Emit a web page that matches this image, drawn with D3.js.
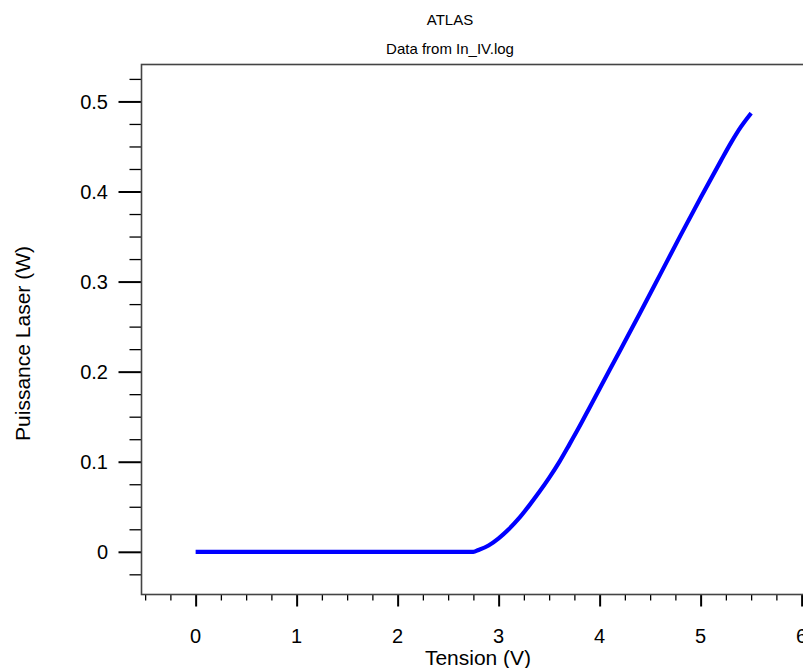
<!DOCTYPE html>
<html>
<head>
<meta charset="utf-8">
<script src="https://cdn.jsdelivr.net/npm/d3@7"></script>
<style>
html,body{margin:0;padding:0;background:#fff;overflow:hidden;}
text{font-family:"Liberation Sans",Arial,sans-serif;fill:#000;}
</style>
</head>
<body>
<svg id="chart" width="803" height="668"></svg>
<script>
const title = "ATLAS";
const subtitle = "Data from In_IV.log";
const xLabel = "Tension (V)";
const yLabel = "Puissance Laser (W)";

const voltage = [0, 0.5, 1, 1.5, 2, 2.5, 2.75, 2.8, 2.9, 3.0, 3.1, 3.2, 3.3, 3.4, 3.5, 3.6, 3.7, 3.8, 3.9, 4.0, 4.2, 4.4, 4.6, 4.8, 5.0, 5.2, 5.3, 5.4, 5.5];
const power   = [0, 0, 0, 0, 0, 0, 0, 0.002, 0.007, 0.015, 0.025, 0.037, 0.051, 0.066, 0.082, 0.0995, 0.119, 0.139, 0.160, 0.181, 0.223, 0.265, 0.308, 0.351, 0.393, 0.434, 0.454, 0.472, 0.487];

const xMajorTicks = [0, 1, 2, 3, 4, 5, 6];
const yMajorTicks = [0, 0.1, 0.2, 0.3, 0.4, 0.5];
const xTickLabels = ["0", "1", "2", "3", "4", "5", "6"];
const yTickLabels = ["0", "0.1", "0.2", "0.3", "0.4", "0.5"];

const svg = d3.select("#chart");
const mLeft = 141.5, mTop = 64.5, mBottom = 594.5, mRight = 870;

const x = d3.scaleLinear().domain([-0.536, 6.677]).range([mLeft, mRight]);
const y = d3.scaleLinear().domain([-0.0474, 0.541]).range([mBottom, mTop]);

// titles
svg.append("text").attr("x", 450).attr("y", 25).attr("text-anchor", "middle")
  .style("font-size", "15px").text(title);
svg.append("text").attr("x", 450).attr("y", 54).attr("text-anchor", "middle")
  .style("font-size", "15px").text(subtitle);

// minor ticks
const xMinor = d3.range(-0.5, 6.51, 0.25).filter(v => Math.abs(v - Math.round(v)) > 1e-6);
const yMinor = d3.range(-0.025, 0.5251, 0.025).filter(v => Math.abs(v * 10 - Math.round(v * 10)) > 1e-6);

const xAxisMajor = d3.axisBottom(x).tickValues(xMajorTicks).tickSize(12).tickFormat("");
const xAxisMinor = d3.axisBottom(x).tickValues(xMinor).tickSize(6).tickFormat("");
const yAxisMajor = d3.axisLeft(y).tickValues(yMajorTicks).tickSize(23).tickFormat("");
const yAxisMinor = d3.axisLeft(y).tickValues(yMinor).tickSize(12).tickFormat("");

function styleAxis(g, w) {
  g.select(".domain").remove();
  g.selectAll(".tick line").attr("stroke", "#000").attr("stroke-width", w);
}
svg.append("g").attr("transform", `translate(0,${mBottom})`).call(xAxisMajor).call(g => styleAxis(g, 2));
svg.append("g").attr("transform", `translate(0,${mBottom})`).call(xAxisMinor).call(g => styleAxis(g, 1.3));
svg.append("g").attr("transform", `translate(${mLeft},0)`).call(yAxisMajor).call(g => styleAxis(g, 2));
svg.append("g").attr("transform", `translate(${mLeft},0)`).call(yAxisMinor).call(g => styleAxis(g, 1.3));

// tick labels
svg.append("g").selectAll("text").data(xMajorTicks).join("text")
  .attr("x", d => x(d)).attr("y", 643).attr("text-anchor", "middle")
  .style("font-size", "20px").text((d, i) => xTickLabels[i]);
svg.append("g").selectAll("text").data(yMajorTicks).join("text")
  .attr("x", 108).attr("y", d => y(d) + 7.3).attr("text-anchor", "end")
  .style("font-size", "20px").text((d, i) => yTickLabels[i]);

// frame
svg.append("rect").attr("x", mLeft).attr("y", mTop)
  .attr("width", mRight - mLeft).attr("height", mBottom - mTop)
  .attr("fill", "none").attr("stroke", "#444").attr("stroke-width", 1.6);

// line
const line = d3.line().x((d, i) => x(voltage[i])).y(d => y(d)).curve(d3.curveMonotoneX);
svg.append("path").datum(power).attr("d", line)
  .attr("fill", "none").attr("stroke", "#0000ff").attr("stroke-width", 4.2)
  .attr("stroke-linejoin", "round");

// axis titles
svg.append("text").attr("x", 478).attr("y", 665).attr("text-anchor", "middle")
  .style("font-size", "21px").text(xLabel);
svg.append("text").attr("transform", "translate(30,343.5) rotate(-90)")
  .attr("text-anchor", "middle").style("font-size", "21px").text(yLabel);
</script>
</body>
</html>
